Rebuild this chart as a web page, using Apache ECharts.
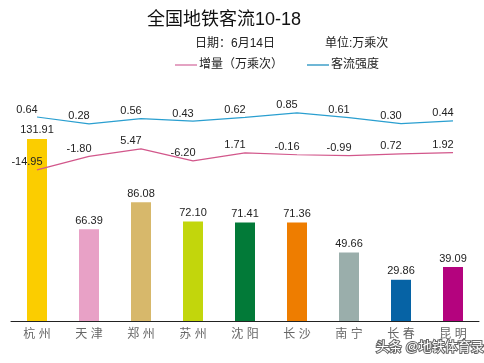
<!DOCTYPE html>
<html><head><meta charset="utf-8">
<script src="https://cdn.jsdelivr.net/npm/echarts@6/dist/echarts.min.js"></script>
<style>html,body{margin:0;padding:0;background:#fff}#c{width:484px;height:363px}</style>
</head><body><div id="c"></div>
<script>
var categories = ['杭 州','天 津','郑 州','苏 州','沈 阳','长 沙','南 宁','长 春','昆 明'];
var flow = [131.91, 66.39, 86.08, 72.10, 71.41, 71.36, 49.66, 29.86, 39.09];
var increase = [-14.95, -1.80, 5.47, -6.20, 1.71, -0.16, -0.99, 0.72, 1.92];
var intensity = [0.64, 0.28, 0.56, 0.43, 0.62, 0.85, 0.61, 0.30, 0.44];
var barColors = ['#fbcd00','#e8a1c6','#d7b86b','#c2d60c','#027a38','#ee7d00','#9aaeab','#0663a5','#b4037e'];
var FF = 'Liberation Sans, Arial, Noto Sans CJK SC, sans-serif';
var chart = echarts.init(document.getElementById('c'));
chart.setOption({
  animation: false,
  backgroundColor: '#fff',
  title: { text: '全国地铁客流10-18', left: 142, top: 6,
    textStyle: { fontSize: 18, fontWeight: 'normal', color: '#111', fontFamily: FF } },
  graphic: [
    { type: 'text', left: 195, top: 38, style: { text: '日期：6月14日', fontSize: 12, fill: '#222', fontFamily: FF } },
    { type: 'text', left: 325, top: 38, style: { text: '单位:万乘次', fontSize: 12, fill: '#222', fontFamily: FF } },
    { type: 'text', left: 375, top: 340, style: { text: '头条 @地铁体育录', fontSize: 13, fill: '#fff', stroke: '#666', lineWidth: 2, fontFamily: FF } }
  ],
  legend: { left: 170, top: 54, itemWidth: 22, itemHeight: 2, itemGap: 24, icon: 'rect',
    textStyle: { fontSize: 12, color: '#222', fontFamily: FF, padding: [0,0,0,-3] },
    data: [{ name: '增量（万乘次）', itemStyle: { color: '#e4a3c3' } }, { name: '客流强度', itemStyle: { color: '#6fb7d6' } }] },
  grid: { left: 11, right: 5, top: 100, bottom: 42 },
  xAxis: { type: 'category', data: categories,
    axisLine: { lineStyle: { color: '#222', width: 1 } }, axisTick: { show: false },
    axisLabel: { fontSize: 12, color: '#666', margin: 8, fontFamily: FF } },
  yAxis: [
    { type: 'value', min: 0, max: 160.1, show: false, splitLine: { show: false } },
    { type: 'value', min: -161.9, max: 53.1, show: false, splitLine: { show: false } },
    { type: 'value', min: -9.93, max: 1.52, show: false, splitLine: { show: false } }
  ],
  series: [
    { name: '客流', type: 'bar', yAxisIndex: 0, barWidth: 20,
      data: flow.map(function (v, i) { return { value: v, itemStyle: { color: barColors[i] } }; }),
      label: { show: true, position: 'top', distance: 3, fontSize: 11, color: '#222', fontFamily: FF,
        formatter: function (p) { return p.value.toFixed(2); } } },
    { name: '增量（万乘次）', type: 'line', yAxisIndex: 1, data: increase, showSymbol: true, symbol: 'circle', symbolSize: 0,
      lineStyle: { color: '#d2578b', width: 1.2 }, itemStyle: { color: '#d2578b' },
      label: { show: true, position: 'top', distance: 2, offset: [-10, 0], fontSize: 11, color: '#222', fontFamily: FF,
        formatter: function (p) { return p.value.toFixed(2); } } },
    { name: '客流强度', type: 'line', yAxisIndex: 2, data: intensity, showSymbol: true, symbol: 'circle', symbolSize: 0,
      lineStyle: { color: '#2a9fd0', width: 1.2 }, itemStyle: { color: '#2a9fd0' },
      label: { show: true, position: 'top', distance: 2, offset: [-10, 0], fontSize: 11, color: '#222', fontFamily: FF,
        formatter: function (p) { return p.value.toFixed(2); } } }
  ]
});
</script></body></html>
